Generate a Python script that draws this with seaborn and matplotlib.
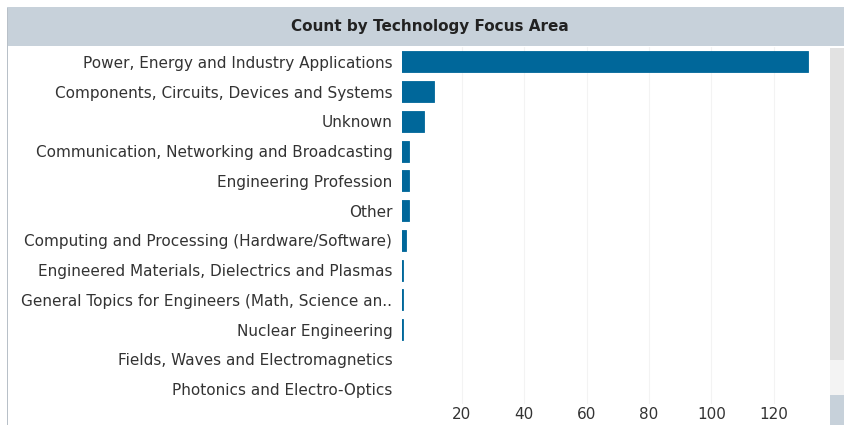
import matplotlib
matplotlib.use("Agg")
import matplotlib.pyplot as plt
import seaborn as sns
import pandas as pd
from matplotlib.patches import Rectangle

# ── data ─────────────────────────────────────────
categories = [
    "Power, Energy and Industry Applications",
    "Components, Circuits, Devices and Systems",
    "Unknown",
    "Communication, Networking and Broadcasting",
    "Engineering Profession",
    "Other",
    "Computing and Processing (Hardware/Software)",
    "Engineered Materials, Dielectrics and Plasmas",
    "General Topics for Engineers (Math, Science an..",
    "Nuclear Engineering",
    "Fields, Waves and Electromagnetics",
    "Photonics and Electro-Optics",
]
counts = [131, 11, 8, 3, 3, 3, 2, 1, 1, 1, 0, 0]
x_ticks = [20, 40, 60, 80, 100, 120]

df = pd.DataFrame({"area": categories, "count": counts})

sns.set_theme(style="white")
plt.rcParams["font.family"] = ["DejaVu Sans"]

W, H = 844, 425
fig = plt.figure(figsize=(W / 100, H / 100), dpi=100)

# header band + frame
fig.patches.append(Rectangle((7 / W, (H - 46) / H), (W - 7) / W, 39 / H,
                             transform=fig.transFigure, facecolor="#c7d1da",
                             edgecolor="none", zorder=0))
fig.patches.append(Rectangle((7 / W, 0), 1.2 / W, (H - 8) / H,
                             transform=fig.transFigure, facecolor="#b8c0c8",
                             edgecolor="none", zorder=0))
fig.text(430 / W, (H - 27) / H, "Count by Technology Focus Area",
         ha="center", va="center", fontsize=11, fontweight="bold", color="#222222")

# scrollbar-ish strips on the right
fig.patches.append(Rectangle((830 / W, (H - 360) / H), 14 / W, 312 / H,
                             transform=fig.transFigure, facecolor="#e2e2e2",
                             edgecolor="none", zorder=0))
fig.patches.append(Rectangle((830 / W, (H - 395) / H), 14 / W, 35 / H,
                             transform=fig.transFigure, facecolor="#f3f3f3",
                             edgecolor="none", zorder=0))
fig.patches.append(Rectangle((830 / W, 0), 14 / W, 30 / H,
                             transform=fig.transFigure, facecolor="#c7d1da",
                             edgecolor="none", zorder=0))

# ── main bar chart ───────────────────────────────
ax = fig.add_axes([402 / W, (H - 404) / H, 428 / W, 357 / H])
sns.barplot(data=df, y="area", x="count", color="#00679a", orient="h",
            width=0.7, saturation=1, edgecolor="#00679a", linewidth=0.6, ax=ax)

ax.set_xlim(0.8, 138)
ax.set_xticks(x_ticks)
ax.set_xticklabels([str(t) for t in x_ticks])
ax.grid(axis="x", color="#f3f3f3", linewidth=0.8)
ax.set_axisbelow(True)
ax.set_xlabel("")
ax.set_ylabel("")
for s in ax.spines.values():
    s.set_visible(False)
ax.tick_params(axis="y", length=0, pad=7, labelsize=11, labelcolor="#333333")
ax.tick_params(axis="x", length=0, pad=2, labelsize=11, labelcolor="#333333")

fig.savefig("out.png", dpi=100)
